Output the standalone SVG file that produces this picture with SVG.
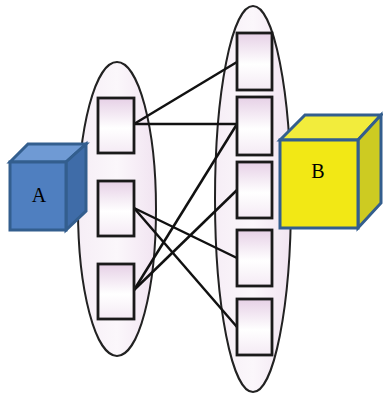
<svg xmlns="http://www.w3.org/2000/svg" width="383" height="397" viewBox="0 0 383 397">
<defs>
<linearGradient id="bx" x1="0" y1="0" x2="0" y2="1">
<stop offset="0" stop-color="#E6D0E6"/>
<stop offset="0.55" stop-color="#FFFFFF"/>
<stop offset="1" stop-color="#F4EAF4"/>
</linearGradient>
<linearGradient id="el" x1="0" y1="0" x2="1" y2="0">
<stop offset="0" stop-color="#F6EEF6"/>
<stop offset="0.5" stop-color="#FBF7FB"/>
<stop offset="1" stop-color="#F1E4F1"/>
</linearGradient>
</defs>
<style>
.ell{fill:url(#el);stroke:#222;stroke-width:2}
.box{fill:url(#bx);stroke:#1a1a1a;stroke-width:2.8}
.ln{stroke:#111;stroke-width:2.5;fill:none}
.cs{stroke:#335E8E;stroke-width:3;stroke-linejoin:miter}
.lbl{font-family:"Liberation Serif",serif;font-size:20px;fill:#000;text-anchor:middle}
</style>
<g id="left-group">
<ellipse class="ell" cx="117" cy="209" rx="39" ry="147"/>
</g>
<g id="right-group">
<ellipse class="ell" cx="253" cy="199" rx="38" ry="193"/>
</g>
<g id="connectors">
<line class="ln" x1="134" y1="124" x2="237" y2="62"/>
<line class="ln" x1="134" y1="124" x2="237" y2="124"/>
<line class="ln" x1="134" y1="208" x2="237" y2="258"/>
<line class="ln" x1="134" y1="208" x2="237" y2="327"/>
<line class="ln" x1="134" y1="290" x2="237" y2="124"/>
<line class="ln" x1="134" y1="290" x2="237" y2="190"/>
</g>
<g id="l1"><rect class="box" x="98" y="98" width="36" height="55"/></g>
<g id="l2"><rect class="box" x="98" y="181" width="36" height="55"/></g>
<g id="l3"><rect class="box" x="98" y="264" width="36" height="55"/></g>
<g id="r1"><rect class="box" x="237" y="33" width="35" height="57"/></g>
<g id="r2"><rect class="box" x="237" y="97" width="35" height="58"/></g>
<g id="r3"><rect class="box" x="237" y="162" width="35" height="56"/></g>
<g id="r4"><rect class="box" x="237" y="230" width="35" height="56"/></g>
<g id="r5"><rect class="box" x="237" y="299" width="35" height="56"/></g>
<g id="A">
<polygon class="cs" points="10,162 28,144 86,144 66,162" fill="#6F9AD4"/>
<polygon class="cs" points="66,162 86,144 86,211 66,230" fill="#3F6CA8"/>
<rect class="cs" x="10" y="162" width="56" height="68" fill="#4F7FC0"/>
<text class="lbl" x="39" y="202">A</text>
</g>
<g id="B">
<polygon class="cs" points="280,140 305,115 381,115 358,140" fill="#F2EC3C"/>
<polygon class="cs" points="358,140 381,115 381,203 358,228" fill="#CDCB22"/>
<rect class="cs" x="280" y="140" width="78" height="88" fill="#F2E815"/>
<text class="lbl" x="318" y="178">B</text>
</g>
</svg>
